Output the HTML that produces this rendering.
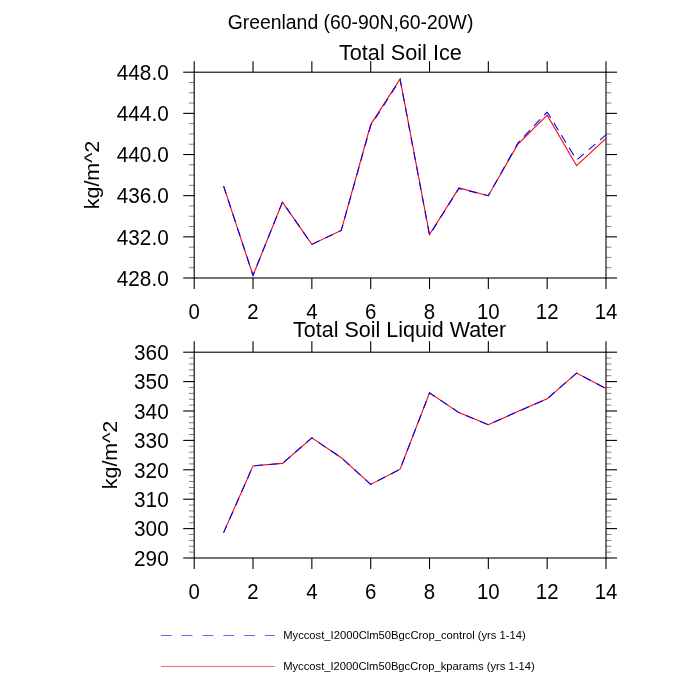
<!DOCTYPE html>
<html><head><meta charset="utf-8"><title>Greenland</title>
<style>
html,body{margin:0;padding:0;background:#fff;}
body{width:700px;height:700px;overflow:hidden;font-family:"Liberation Sans",sans-serif;}
svg{display:block;will-change:transform;}
</style></head><body>
<svg width="700" height="700" viewBox="0 0 700 700">
<rect x="0" y="0" width="700" height="700" fill="#fff"/>
<text x="350.5" y="29.2" font-size="19.4" text-anchor="middle" font-family="Liberation Sans, sans-serif">Greenland (60-90N,60-20W)</text>
<rect x="194.2" y="72.2" width="411.8" height="205.8" fill="none" stroke="#000" stroke-width="1.1"/>
<line x1="194.20" y1="61.2" x2="194.20" y2="72.2" stroke="#000" stroke-width="1.1"/>
<line x1="194.20" y1="278.0" x2="194.20" y2="289.0" stroke="#000" stroke-width="1.1"/>
<text x="194.20" y="319.00" font-size="22" text-anchor="middle" textLength="11.36" lengthAdjust="spacingAndGlyphs" font-family="Liberation Sans, sans-serif">0</text>
<line x1="253.03" y1="61.2" x2="253.03" y2="72.2" stroke="#000" stroke-width="1.1"/>
<line x1="253.03" y1="278.0" x2="253.03" y2="289.0" stroke="#000" stroke-width="1.1"/>
<text x="253.03" y="319.00" font-size="22" text-anchor="middle" textLength="11.36" lengthAdjust="spacingAndGlyphs" font-family="Liberation Sans, sans-serif">2</text>
<line x1="311.86" y1="61.2" x2="311.86" y2="72.2" stroke="#000" stroke-width="1.1"/>
<line x1="311.86" y1="278.0" x2="311.86" y2="289.0" stroke="#000" stroke-width="1.1"/>
<text x="311.86" y="319.00" font-size="22" text-anchor="middle" textLength="11.36" lengthAdjust="spacingAndGlyphs" font-family="Liberation Sans, sans-serif">4</text>
<line x1="370.69" y1="61.2" x2="370.69" y2="72.2" stroke="#000" stroke-width="1.1"/>
<line x1="370.69" y1="278.0" x2="370.69" y2="289.0" stroke="#000" stroke-width="1.1"/>
<text x="370.69" y="319.00" font-size="22" text-anchor="middle" textLength="11.36" lengthAdjust="spacingAndGlyphs" font-family="Liberation Sans, sans-serif">6</text>
<line x1="429.51" y1="61.2" x2="429.51" y2="72.2" stroke="#000" stroke-width="1.1"/>
<line x1="429.51" y1="278.0" x2="429.51" y2="289.0" stroke="#000" stroke-width="1.1"/>
<text x="429.51" y="319.00" font-size="22" text-anchor="middle" textLength="11.36" lengthAdjust="spacingAndGlyphs" font-family="Liberation Sans, sans-serif">8</text>
<line x1="488.34" y1="61.2" x2="488.34" y2="72.2" stroke="#000" stroke-width="1.1"/>
<line x1="488.34" y1="278.0" x2="488.34" y2="289.0" stroke="#000" stroke-width="1.1"/>
<text x="488.34" y="319.00" font-size="22" text-anchor="middle" textLength="22.72" lengthAdjust="spacingAndGlyphs" font-family="Liberation Sans, sans-serif">10</text>
<line x1="547.17" y1="61.2" x2="547.17" y2="72.2" stroke="#000" stroke-width="1.1"/>
<line x1="547.17" y1="278.0" x2="547.17" y2="289.0" stroke="#000" stroke-width="1.1"/>
<text x="547.17" y="319.00" font-size="22" text-anchor="middle" textLength="22.72" lengthAdjust="spacingAndGlyphs" font-family="Liberation Sans, sans-serif">12</text>
<line x1="606.00" y1="61.2" x2="606.00" y2="72.2" stroke="#000" stroke-width="1.1"/>
<line x1="606.00" y1="278.0" x2="606.00" y2="289.0" stroke="#000" stroke-width="1.1"/>
<text x="606.00" y="319.00" font-size="22" text-anchor="middle" textLength="22.72" lengthAdjust="spacingAndGlyphs" font-family="Liberation Sans, sans-serif">14</text>
<text x="168.7" y="79.90" font-size="22" text-anchor="end" textLength="51.93" lengthAdjust="spacingAndGlyphs" font-family="Liberation Sans, sans-serif">448.0</text>
<line x1="183.2" y1="72.20" x2="194.2" y2="72.20" stroke="#000" stroke-width="1.1"/>
<line x1="606.0" y1="72.20" x2="617.0" y2="72.20" stroke="#000" stroke-width="1.1"/>
<line x1="188.89999999999998" y1="82.49" x2="194.2" y2="82.49" stroke="#000" stroke-width="0.5"/>
<line x1="606.0" y1="82.49" x2="611.3" y2="82.49" stroke="#000" stroke-width="0.5"/>
<line x1="188.89999999999998" y1="92.78" x2="194.2" y2="92.78" stroke="#000" stroke-width="0.5"/>
<line x1="606.0" y1="92.78" x2="611.3" y2="92.78" stroke="#000" stroke-width="0.5"/>
<line x1="188.89999999999998" y1="103.07" x2="194.2" y2="103.07" stroke="#000" stroke-width="0.5"/>
<line x1="606.0" y1="103.07" x2="611.3" y2="103.07" stroke="#000" stroke-width="0.5"/>
<text x="168.7" y="121.06" font-size="22" text-anchor="end" textLength="51.93" lengthAdjust="spacingAndGlyphs" font-family="Liberation Sans, sans-serif">444.0</text>
<line x1="183.2" y1="113.36" x2="194.2" y2="113.36" stroke="#000" stroke-width="1.1"/>
<line x1="606.0" y1="113.36" x2="617.0" y2="113.36" stroke="#000" stroke-width="1.1"/>
<line x1="188.89999999999998" y1="123.65" x2="194.2" y2="123.65" stroke="#000" stroke-width="0.5"/>
<line x1="606.0" y1="123.65" x2="611.3" y2="123.65" stroke="#000" stroke-width="0.5"/>
<line x1="188.89999999999998" y1="133.94" x2="194.2" y2="133.94" stroke="#000" stroke-width="0.5"/>
<line x1="606.0" y1="133.94" x2="611.3" y2="133.94" stroke="#000" stroke-width="0.5"/>
<line x1="188.89999999999998" y1="144.23" x2="194.2" y2="144.23" stroke="#000" stroke-width="0.5"/>
<line x1="606.0" y1="144.23" x2="611.3" y2="144.23" stroke="#000" stroke-width="0.5"/>
<text x="168.7" y="162.22" font-size="22" text-anchor="end" textLength="51.93" lengthAdjust="spacingAndGlyphs" font-family="Liberation Sans, sans-serif">440.0</text>
<line x1="183.2" y1="154.52" x2="194.2" y2="154.52" stroke="#000" stroke-width="1.1"/>
<line x1="606.0" y1="154.52" x2="617.0" y2="154.52" stroke="#000" stroke-width="1.1"/>
<line x1="188.89999999999998" y1="164.81" x2="194.2" y2="164.81" stroke="#000" stroke-width="0.5"/>
<line x1="606.0" y1="164.81" x2="611.3" y2="164.81" stroke="#000" stroke-width="0.5"/>
<line x1="188.89999999999998" y1="175.10" x2="194.2" y2="175.10" stroke="#000" stroke-width="0.5"/>
<line x1="606.0" y1="175.10" x2="611.3" y2="175.10" stroke="#000" stroke-width="0.5"/>
<line x1="188.89999999999998" y1="185.39" x2="194.2" y2="185.39" stroke="#000" stroke-width="0.5"/>
<line x1="606.0" y1="185.39" x2="611.3" y2="185.39" stroke="#000" stroke-width="0.5"/>
<text x="168.7" y="203.38" font-size="22" text-anchor="end" textLength="51.93" lengthAdjust="spacingAndGlyphs" font-family="Liberation Sans, sans-serif">436.0</text>
<line x1="183.2" y1="195.68" x2="194.2" y2="195.68" stroke="#000" stroke-width="1.1"/>
<line x1="606.0" y1="195.68" x2="617.0" y2="195.68" stroke="#000" stroke-width="1.1"/>
<line x1="188.89999999999998" y1="205.97" x2="194.2" y2="205.97" stroke="#000" stroke-width="0.5"/>
<line x1="606.0" y1="205.97" x2="611.3" y2="205.97" stroke="#000" stroke-width="0.5"/>
<line x1="188.89999999999998" y1="216.26" x2="194.2" y2="216.26" stroke="#000" stroke-width="0.5"/>
<line x1="606.0" y1="216.26" x2="611.3" y2="216.26" stroke="#000" stroke-width="0.5"/>
<line x1="188.89999999999998" y1="226.55" x2="194.2" y2="226.55" stroke="#000" stroke-width="0.5"/>
<line x1="606.0" y1="226.55" x2="611.3" y2="226.55" stroke="#000" stroke-width="0.5"/>
<text x="168.7" y="244.54" font-size="22" text-anchor="end" textLength="51.93" lengthAdjust="spacingAndGlyphs" font-family="Liberation Sans, sans-serif">432.0</text>
<line x1="183.2" y1="236.84" x2="194.2" y2="236.84" stroke="#000" stroke-width="1.1"/>
<line x1="606.0" y1="236.84" x2="617.0" y2="236.84" stroke="#000" stroke-width="1.1"/>
<line x1="188.89999999999998" y1="247.13" x2="194.2" y2="247.13" stroke="#000" stroke-width="0.5"/>
<line x1="606.0" y1="247.13" x2="611.3" y2="247.13" stroke="#000" stroke-width="0.5"/>
<line x1="188.89999999999998" y1="257.42" x2="194.2" y2="257.42" stroke="#000" stroke-width="0.5"/>
<line x1="606.0" y1="257.42" x2="611.3" y2="257.42" stroke="#000" stroke-width="0.5"/>
<line x1="188.89999999999998" y1="267.71" x2="194.2" y2="267.71" stroke="#000" stroke-width="0.5"/>
<line x1="606.0" y1="267.71" x2="611.3" y2="267.71" stroke="#000" stroke-width="0.5"/>
<text x="168.7" y="285.70" font-size="22" text-anchor="end" textLength="51.93" lengthAdjust="spacingAndGlyphs" font-family="Liberation Sans, sans-serif">428.0</text>
<line x1="183.2" y1="278.00" x2="194.2" y2="278.00" stroke="#000" stroke-width="1.1"/>
<line x1="606.0" y1="278.00" x2="617.0" y2="278.00" stroke="#000" stroke-width="1.1"/>
<text x="400.4" y="60.2" font-size="21.7" text-anchor="middle" textLength="123.0" lengthAdjust="spacingAndGlyphs" font-family="Liberation Sans, sans-serif">Total Soil Ice</text>
<rect x="194.2" y="352.2" width="411.8" height="205.8" fill="none" stroke="#000" stroke-width="1.1"/>
<line x1="194.20" y1="341.2" x2="194.20" y2="352.2" stroke="#000" stroke-width="1.1"/>
<line x1="194.20" y1="558.0" x2="194.20" y2="569.0" stroke="#000" stroke-width="1.1"/>
<text x="194.20" y="599.00" font-size="22" text-anchor="middle" textLength="11.36" lengthAdjust="spacingAndGlyphs" font-family="Liberation Sans, sans-serif">0</text>
<line x1="253.03" y1="341.2" x2="253.03" y2="352.2" stroke="#000" stroke-width="1.1"/>
<line x1="253.03" y1="558.0" x2="253.03" y2="569.0" stroke="#000" stroke-width="1.1"/>
<text x="253.03" y="599.00" font-size="22" text-anchor="middle" textLength="11.36" lengthAdjust="spacingAndGlyphs" font-family="Liberation Sans, sans-serif">2</text>
<line x1="311.86" y1="341.2" x2="311.86" y2="352.2" stroke="#000" stroke-width="1.1"/>
<line x1="311.86" y1="558.0" x2="311.86" y2="569.0" stroke="#000" stroke-width="1.1"/>
<text x="311.86" y="599.00" font-size="22" text-anchor="middle" textLength="11.36" lengthAdjust="spacingAndGlyphs" font-family="Liberation Sans, sans-serif">4</text>
<line x1="370.69" y1="341.2" x2="370.69" y2="352.2" stroke="#000" stroke-width="1.1"/>
<line x1="370.69" y1="558.0" x2="370.69" y2="569.0" stroke="#000" stroke-width="1.1"/>
<text x="370.69" y="599.00" font-size="22" text-anchor="middle" textLength="11.36" lengthAdjust="spacingAndGlyphs" font-family="Liberation Sans, sans-serif">6</text>
<line x1="429.51" y1="341.2" x2="429.51" y2="352.2" stroke="#000" stroke-width="1.1"/>
<line x1="429.51" y1="558.0" x2="429.51" y2="569.0" stroke="#000" stroke-width="1.1"/>
<text x="429.51" y="599.00" font-size="22" text-anchor="middle" textLength="11.36" lengthAdjust="spacingAndGlyphs" font-family="Liberation Sans, sans-serif">8</text>
<line x1="488.34" y1="341.2" x2="488.34" y2="352.2" stroke="#000" stroke-width="1.1"/>
<line x1="488.34" y1="558.0" x2="488.34" y2="569.0" stroke="#000" stroke-width="1.1"/>
<text x="488.34" y="599.00" font-size="22" text-anchor="middle" textLength="22.72" lengthAdjust="spacingAndGlyphs" font-family="Liberation Sans, sans-serif">10</text>
<line x1="547.17" y1="341.2" x2="547.17" y2="352.2" stroke="#000" stroke-width="1.1"/>
<line x1="547.17" y1="558.0" x2="547.17" y2="569.0" stroke="#000" stroke-width="1.1"/>
<text x="547.17" y="599.00" font-size="22" text-anchor="middle" textLength="22.72" lengthAdjust="spacingAndGlyphs" font-family="Liberation Sans, sans-serif">12</text>
<line x1="606.00" y1="341.2" x2="606.00" y2="352.2" stroke="#000" stroke-width="1.1"/>
<line x1="606.00" y1="558.0" x2="606.00" y2="569.0" stroke="#000" stroke-width="1.1"/>
<text x="606.00" y="599.00" font-size="22" text-anchor="middle" textLength="22.72" lengthAdjust="spacingAndGlyphs" font-family="Liberation Sans, sans-serif">14</text>
<text x="168.7" y="359.90" font-size="22" text-anchor="end" textLength="34.62" lengthAdjust="spacingAndGlyphs" font-family="Liberation Sans, sans-serif">360</text>
<line x1="183.2" y1="352.20" x2="194.2" y2="352.20" stroke="#000" stroke-width="1.1"/>
<line x1="606.0" y1="352.20" x2="617.0" y2="352.20" stroke="#000" stroke-width="1.1"/>
<line x1="188.89999999999998" y1="358.08" x2="194.2" y2="358.08" stroke="#000" stroke-width="0.5"/>
<line x1="606.0" y1="358.08" x2="611.3" y2="358.08" stroke="#000" stroke-width="0.5"/>
<line x1="188.89999999999998" y1="363.96" x2="194.2" y2="363.96" stroke="#000" stroke-width="0.5"/>
<line x1="606.0" y1="363.96" x2="611.3" y2="363.96" stroke="#000" stroke-width="0.5"/>
<line x1="188.89999999999998" y1="369.84" x2="194.2" y2="369.84" stroke="#000" stroke-width="0.5"/>
<line x1="606.0" y1="369.84" x2="611.3" y2="369.84" stroke="#000" stroke-width="0.5"/>
<line x1="188.89999999999998" y1="375.72" x2="194.2" y2="375.72" stroke="#000" stroke-width="0.5"/>
<line x1="606.0" y1="375.72" x2="611.3" y2="375.72" stroke="#000" stroke-width="0.5"/>
<text x="168.7" y="389.30" font-size="22" text-anchor="end" textLength="34.62" lengthAdjust="spacingAndGlyphs" font-family="Liberation Sans, sans-serif">350</text>
<line x1="183.2" y1="381.60" x2="194.2" y2="381.60" stroke="#000" stroke-width="1.1"/>
<line x1="606.0" y1="381.60" x2="617.0" y2="381.60" stroke="#000" stroke-width="1.1"/>
<line x1="188.89999999999998" y1="387.48" x2="194.2" y2="387.48" stroke="#000" stroke-width="0.5"/>
<line x1="606.0" y1="387.48" x2="611.3" y2="387.48" stroke="#000" stroke-width="0.5"/>
<line x1="188.89999999999998" y1="393.36" x2="194.2" y2="393.36" stroke="#000" stroke-width="0.5"/>
<line x1="606.0" y1="393.36" x2="611.3" y2="393.36" stroke="#000" stroke-width="0.5"/>
<line x1="188.89999999999998" y1="399.24" x2="194.2" y2="399.24" stroke="#000" stroke-width="0.5"/>
<line x1="606.0" y1="399.24" x2="611.3" y2="399.24" stroke="#000" stroke-width="0.5"/>
<line x1="188.89999999999998" y1="405.12" x2="194.2" y2="405.12" stroke="#000" stroke-width="0.5"/>
<line x1="606.0" y1="405.12" x2="611.3" y2="405.12" stroke="#000" stroke-width="0.5"/>
<text x="168.7" y="418.70" font-size="22" text-anchor="end" textLength="34.62" lengthAdjust="spacingAndGlyphs" font-family="Liberation Sans, sans-serif">340</text>
<line x1="183.2" y1="411.00" x2="194.2" y2="411.00" stroke="#000" stroke-width="1.1"/>
<line x1="606.0" y1="411.00" x2="617.0" y2="411.00" stroke="#000" stroke-width="1.1"/>
<line x1="188.89999999999998" y1="416.88" x2="194.2" y2="416.88" stroke="#000" stroke-width="0.5"/>
<line x1="606.0" y1="416.88" x2="611.3" y2="416.88" stroke="#000" stroke-width="0.5"/>
<line x1="188.89999999999998" y1="422.76" x2="194.2" y2="422.76" stroke="#000" stroke-width="0.5"/>
<line x1="606.0" y1="422.76" x2="611.3" y2="422.76" stroke="#000" stroke-width="0.5"/>
<line x1="188.89999999999998" y1="428.64" x2="194.2" y2="428.64" stroke="#000" stroke-width="0.5"/>
<line x1="606.0" y1="428.64" x2="611.3" y2="428.64" stroke="#000" stroke-width="0.5"/>
<line x1="188.89999999999998" y1="434.52" x2="194.2" y2="434.52" stroke="#000" stroke-width="0.5"/>
<line x1="606.0" y1="434.52" x2="611.3" y2="434.52" stroke="#000" stroke-width="0.5"/>
<text x="168.7" y="448.10" font-size="22" text-anchor="end" textLength="34.62" lengthAdjust="spacingAndGlyphs" font-family="Liberation Sans, sans-serif">330</text>
<line x1="183.2" y1="440.40" x2="194.2" y2="440.40" stroke="#000" stroke-width="1.1"/>
<line x1="606.0" y1="440.40" x2="617.0" y2="440.40" stroke="#000" stroke-width="1.1"/>
<line x1="188.89999999999998" y1="446.28" x2="194.2" y2="446.28" stroke="#000" stroke-width="0.5"/>
<line x1="606.0" y1="446.28" x2="611.3" y2="446.28" stroke="#000" stroke-width="0.5"/>
<line x1="188.89999999999998" y1="452.16" x2="194.2" y2="452.16" stroke="#000" stroke-width="0.5"/>
<line x1="606.0" y1="452.16" x2="611.3" y2="452.16" stroke="#000" stroke-width="0.5"/>
<line x1="188.89999999999998" y1="458.04" x2="194.2" y2="458.04" stroke="#000" stroke-width="0.5"/>
<line x1="606.0" y1="458.04" x2="611.3" y2="458.04" stroke="#000" stroke-width="0.5"/>
<line x1="188.89999999999998" y1="463.92" x2="194.2" y2="463.92" stroke="#000" stroke-width="0.5"/>
<line x1="606.0" y1="463.92" x2="611.3" y2="463.92" stroke="#000" stroke-width="0.5"/>
<text x="168.7" y="477.50" font-size="22" text-anchor="end" textLength="34.62" lengthAdjust="spacingAndGlyphs" font-family="Liberation Sans, sans-serif">320</text>
<line x1="183.2" y1="469.80" x2="194.2" y2="469.80" stroke="#000" stroke-width="1.1"/>
<line x1="606.0" y1="469.80" x2="617.0" y2="469.80" stroke="#000" stroke-width="1.1"/>
<line x1="188.89999999999998" y1="475.68" x2="194.2" y2="475.68" stroke="#000" stroke-width="0.5"/>
<line x1="606.0" y1="475.68" x2="611.3" y2="475.68" stroke="#000" stroke-width="0.5"/>
<line x1="188.89999999999998" y1="481.56" x2="194.2" y2="481.56" stroke="#000" stroke-width="0.5"/>
<line x1="606.0" y1="481.56" x2="611.3" y2="481.56" stroke="#000" stroke-width="0.5"/>
<line x1="188.89999999999998" y1="487.44" x2="194.2" y2="487.44" stroke="#000" stroke-width="0.5"/>
<line x1="606.0" y1="487.44" x2="611.3" y2="487.44" stroke="#000" stroke-width="0.5"/>
<line x1="188.89999999999998" y1="493.32" x2="194.2" y2="493.32" stroke="#000" stroke-width="0.5"/>
<line x1="606.0" y1="493.32" x2="611.3" y2="493.32" stroke="#000" stroke-width="0.5"/>
<text x="168.7" y="506.90" font-size="22" text-anchor="end" textLength="34.62" lengthAdjust="spacingAndGlyphs" font-family="Liberation Sans, sans-serif">310</text>
<line x1="183.2" y1="499.20" x2="194.2" y2="499.20" stroke="#000" stroke-width="1.1"/>
<line x1="606.0" y1="499.20" x2="617.0" y2="499.20" stroke="#000" stroke-width="1.1"/>
<line x1="188.89999999999998" y1="505.08" x2="194.2" y2="505.08" stroke="#000" stroke-width="0.5"/>
<line x1="606.0" y1="505.08" x2="611.3" y2="505.08" stroke="#000" stroke-width="0.5"/>
<line x1="188.89999999999998" y1="510.96" x2="194.2" y2="510.96" stroke="#000" stroke-width="0.5"/>
<line x1="606.0" y1="510.96" x2="611.3" y2="510.96" stroke="#000" stroke-width="0.5"/>
<line x1="188.89999999999998" y1="516.84" x2="194.2" y2="516.84" stroke="#000" stroke-width="0.5"/>
<line x1="606.0" y1="516.84" x2="611.3" y2="516.84" stroke="#000" stroke-width="0.5"/>
<line x1="188.89999999999998" y1="522.72" x2="194.2" y2="522.72" stroke="#000" stroke-width="0.5"/>
<line x1="606.0" y1="522.72" x2="611.3" y2="522.72" stroke="#000" stroke-width="0.5"/>
<text x="168.7" y="536.30" font-size="22" text-anchor="end" textLength="34.62" lengthAdjust="spacingAndGlyphs" font-family="Liberation Sans, sans-serif">300</text>
<line x1="183.2" y1="528.60" x2="194.2" y2="528.60" stroke="#000" stroke-width="1.1"/>
<line x1="606.0" y1="528.60" x2="617.0" y2="528.60" stroke="#000" stroke-width="1.1"/>
<line x1="188.89999999999998" y1="534.48" x2="194.2" y2="534.48" stroke="#000" stroke-width="0.5"/>
<line x1="606.0" y1="534.48" x2="611.3" y2="534.48" stroke="#000" stroke-width="0.5"/>
<line x1="188.89999999999998" y1="540.36" x2="194.2" y2="540.36" stroke="#000" stroke-width="0.5"/>
<line x1="606.0" y1="540.36" x2="611.3" y2="540.36" stroke="#000" stroke-width="0.5"/>
<line x1="188.89999999999998" y1="546.24" x2="194.2" y2="546.24" stroke="#000" stroke-width="0.5"/>
<line x1="606.0" y1="546.24" x2="611.3" y2="546.24" stroke="#000" stroke-width="0.5"/>
<line x1="188.89999999999998" y1="552.12" x2="194.2" y2="552.12" stroke="#000" stroke-width="0.5"/>
<line x1="606.0" y1="552.12" x2="611.3" y2="552.12" stroke="#000" stroke-width="0.5"/>
<text x="168.7" y="565.70" font-size="22" text-anchor="end" textLength="34.62" lengthAdjust="spacingAndGlyphs" font-family="Liberation Sans, sans-serif">290</text>
<line x1="183.2" y1="558.00" x2="194.2" y2="558.00" stroke="#000" stroke-width="1.1"/>
<line x1="606.0" y1="558.00" x2="617.0" y2="558.00" stroke="#000" stroke-width="1.1"/>
<text x="399.6" y="336.8" font-size="21.7" text-anchor="middle" textLength="213.2" lengthAdjust="spacingAndGlyphs" font-family="Liberation Sans, sans-serif">Total Soil Liquid Water</text>
<text transform="translate(98.9,175) rotate(-90)" font-size="21" textLength="68.6" lengthAdjust="spacingAndGlyphs" text-anchor="middle" font-family="Liberation Sans, sans-serif">kg/m^2</text>
<text transform="translate(117.0,455) rotate(-90)" font-size="21" textLength="68.6" lengthAdjust="spacingAndGlyphs" text-anchor="middle" font-family="Liberation Sans, sans-serif">kg/m^2</text>
<polyline points="223.61,186.10 253.03,275.40 282.44,202.10 311.86,244.40 341.27,230.40 370.69,124.60 400.10,79.00 429.51,234.50 458.93,187.90 488.34,195.70 517.76,144.40 547.17,115.20 576.59,165.70 606.00,138.30" fill="none" stroke="#ff0000" stroke-width="1.1" stroke-linejoin="miter"/>
<polyline points="223.61,186.10 253.03,275.40 282.44,202.10 311.86,244.40 341.27,230.40 370.69,125.80 400.10,79.60 429.51,235.20 458.93,188.40 488.34,195.70 517.76,143.20" fill="none" stroke="#0000ff" stroke-width="1.1" stroke-linejoin="miter" stroke-dasharray="8.4 6.6" stroke-dashoffset="0.6"/>
<polyline points="517.76,143.20 547.17,112.00" fill="none" stroke="#0000ff" stroke-width="1.1" stroke-linejoin="miter" stroke-dasharray="8.8 5.9" stroke-dashoffset="5.6"/>
<polyline points="547.17,112.00 576.59,160.00" fill="none" stroke="#0000ff" stroke-width="1.1" stroke-linejoin="miter" stroke-dasharray="8.8 5.9" stroke-dashoffset="2.1"/>
<polyline points="576.59,160.00 606.00,134.90" fill="none" stroke="#0000ff" stroke-width="1.1" stroke-linejoin="miter" stroke-dasharray="8.5 6.5" stroke-dashoffset="14"/>
<polyline points="223.61,532.60 253.03,465.90 282.44,463.40 311.86,437.90 341.27,457.70 370.69,484.40 400.10,469.20 429.51,392.90 458.93,412.60 488.34,424.70 517.76,411.60 547.17,398.80 576.59,373.10 606.00,388.60" fill="none" stroke="#ff0000" stroke-width="1.1" stroke-linejoin="miter"/>
<polyline points="223.61,532.60 253.03,465.90 282.44,463.40 311.86,437.90 341.27,457.70 370.69,484.40 400.10,469.20 429.51,392.90 458.93,412.60 488.34,424.70 517.76,411.60 547.17,398.80 576.59,373.10 606.00,388.60" fill="none" stroke="#0000ff" stroke-width="1.1" stroke-linejoin="miter" stroke-dasharray="8.4 6.6" stroke-dashoffset="0.6"/>
<line x1="160.9" y1="635.5" x2="274.9" y2="635.5" stroke="#0000ff" stroke-width="0.6" stroke-dasharray="10.8 10.0"/>
<line x1="160.9" y1="666.5" x2="274.8" y2="666.5" stroke="#ff0000" stroke-width="0.6"/>
<text x="283.2" y="638.6" font-size="11.6" textLength="242.6" lengthAdjust="spacingAndGlyphs" font-family="Liberation Sans, sans-serif">Myccost_I2000Clm50BgcCrop_control (yrs 1-14)</text>
<text x="283.2" y="669.8" font-size="11.6" textLength="251.5" lengthAdjust="spacingAndGlyphs" font-family="Liberation Sans, sans-serif">Myccost_I2000Clm50BgcCrop_kparams (yrs 1-14)</text>
</svg></body></html>
